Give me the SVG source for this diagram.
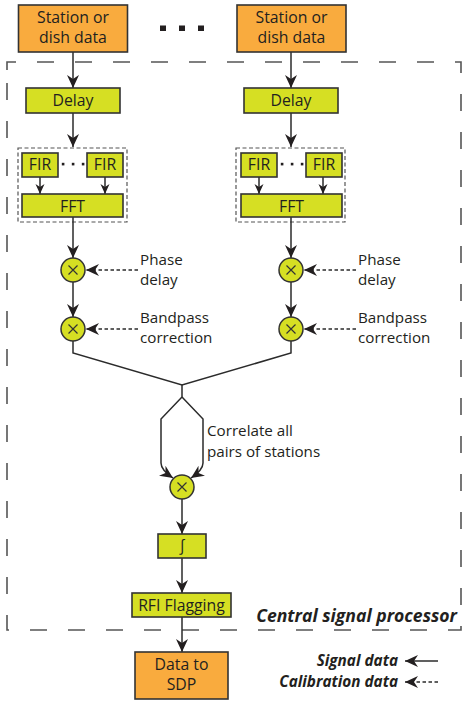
<svg xmlns="http://www.w3.org/2000/svg" width="463" height="703" viewBox="0 0 463 703">
  <style>
    .src { fill: #F9AB3E; stroke: #333; stroke-width: 1.6; }
    .blk { fill: #D6DF23; stroke: #333; stroke-width: 1.6; }
    .mul { fill: #D6DF23; stroke: #333; stroke-width: 1.5; }
    .x { stroke: #333; stroke-width: 1.2; fill: none; }
    .t { font-family: "Open Sans", "Noto Sans", sans-serif; font-size: 15.8px; fill: #231F20; }
    .c { text-anchor: middle; }
    .lbl { font-family: "Open Sans", "Noto Sans", sans-serif; font-size: 15.2px; fill: #231F20; }
    .bi { font-family: "Open Sans", "Noto Sans", sans-serif; font-weight: bold; font-style: italic; fill: #231F20; }
    .sig { stroke: #2B2B2B; stroke-width: 1.5; fill: none; }
    .cal { stroke: #2B2B2B; stroke-width: 1.5; fill: none; stroke-dasharray: 3.5 2.5; }
    .outer { stroke: #555; stroke-width: 1.6; fill: none; stroke-dasharray: 17 21; }
    .inner { stroke: #555; stroke-width: 1.2; fill: none; stroke-dasharray: 4 2.5; }
    .dot { fill: #231F20; }
  </style>
  <defs>
    <marker id="ah" markerUnits="userSpaceOnUse" markerWidth="14" markerHeight="13" refX="13" refY="6.5" orient="auto">
      <path d="M0,0.5 L13,6.5 L0,12.5 L4,6.5 Z" fill="#231F20"/>
    </marker>
    <marker id="ahs" markerUnits="userSpaceOnUse" markerWidth="11" markerHeight="10" refX="10" refY="5" orient="auto">
      <path d="M0,0.5 L10,5 L0,9.5 L3,5 Z" fill="#231F20"/>
    </marker>
  </defs>

  <!-- processor boundaries -->
  <path class="outer" d="M7,70 V62 H461 V630 H7 Z"/>
  <rect class="inner" x="18" y="148" width="109" height="74"/>
  <rect class="inner" x="236" y="148" width="109" height="74"/>

  <!-- connectors -->
  <g id="connectors">
    <line class="sig" x1="73" y1="52" x2="73" y2="88" marker-end="url(#ah)"/>
    <line class="sig" x1="291" y1="52" x2="291" y2="88" marker-end="url(#ah)"/>
    <line class="sig" x1="73" y1="113" x2="73" y2="147" marker-end="url(#ah)"/>
    <line class="sig" x1="291" y1="113" x2="291" y2="147" marker-end="url(#ah)"/>
    <line class="sig" x1="40" y1="177" x2="40" y2="194" marker-end="url(#ahs)"/>
    <line class="sig" x1="105" y1="177" x2="105" y2="194" marker-end="url(#ahs)"/>
    <line class="sig" x1="259" y1="177" x2="259" y2="194" marker-end="url(#ahs)"/>
    <line class="sig" x1="323" y1="177" x2="323" y2="194" marker-end="url(#ahs)"/>
    <line class="sig" x1="73" y1="217" x2="73" y2="258" marker-end="url(#ah)"/>
    <line class="sig" x1="291" y1="217" x2="291" y2="258" marker-end="url(#ah)"/>
    <line class="sig" x1="73" y1="282" x2="73" y2="317" marker-end="url(#ah)"/>
    <line class="sig" x1="291" y1="282" x2="291" y2="317" marker-end="url(#ah)"/>
    <line class="cal" x1="138" y1="270" x2="86" y2="270" marker-end="url(#ah)"/>
    <line class="cal" x1="356" y1="270" x2="304" y2="270" marker-end="url(#ah)"/>
    <line class="cal" x1="138" y1="329" x2="86" y2="329" marker-end="url(#ah)"/>
    <line class="cal" x1="356" y1="329" x2="304" y2="329" marker-end="url(#ah)"/>
    <path class="sig" d="M73,341 V353 L182,385 L291,353 V341"/>
    <path class="sig" d="M182,385 V397 L161,419 V463 Q161,470 173,478" marker-end="url(#ah)"/>
    <path class="sig" d="M182,397 L203,419 V463 Q203,470 191,478" marker-end="url(#ah)"/>
    <line class="sig" x1="182" y1="499" x2="182" y2="534" marker-end="url(#ah)"/>
    <line class="sig" x1="182" y1="558" x2="182" y2="593" marker-end="url(#ah)"/>
    <line class="sig" x1="182" y1="617" x2="182" y2="652" marker-end="url(#ah)"/>
    <line class="sig" x1="438" y1="661" x2="405" y2="661" marker-end="url(#ah)"/>
    <line class="cal" x1="438" y1="682" x2="405" y2="682" marker-end="url(#ah)"/>
  </g>

  <!-- inputs -->
  <g id="station-1">
    <rect class="src" x="18.5" y="5" width="109" height="47"/>
    <text class="t c" x="73" y="23">Station or</text>
    <text class="t c" x="73" y="43">dish data</text>
  </g>
  <g id="station-n">
    <rect class="src" x="237" y="5" width="109" height="47"/>
    <text class="t c" x="291.5" y="23">Station or</text>
    <text class="t c" x="291.5" y="43">dish data</text>
  </g>
  <g id="ellipsis">
    <rect class="dot" x="160" y="25.5" width="6" height="5.5"/>
    <rect class="dot" x="179" y="25.5" width="6" height="5.5"/>
    <rect class="dot" x="198" y="25.5" width="6" height="5.5"/>
  </g>

  <!-- left chain -->
  <g id="delay-1">
    <rect class="blk" x="26" y="88" width="94" height="25"/>
    <text class="t c" x="73" y="106">Delay</text>
  </g>
  <g id="fir-1a">
    <rect class="blk" x="22" y="153" width="36" height="24"/>
    <text class="t c" x="40" y="170">FIR</text>
  </g>
  <g id="fir-1b">
    <rect class="blk" x="87" y="153" width="36" height="24"/>
    <text class="t c" x="105" y="170">FIR</text>
  </g>
  <g id="fir-dots-1">
    <rect class="dot" x="61.8" y="162.8" width="2.6" height="2.6"/>
    <rect class="dot" x="71.8" y="162.8" width="2.6" height="2.6"/>
    <rect class="dot" x="81.8" y="162.8" width="2.6" height="2.6"/>
  </g>
  <g id="fft-1">
    <rect class="blk" x="22" y="194" width="101" height="23"/>
    <text class="t c" x="72.5" y="212">FFT</text>
  </g>
  <g id="phase-1">
    <circle class="mul" cx="73" cy="270" r="12"/>
    <path class="x" d="M68.5,265.5 L77.5,274.5 M77.5,265.5 L68.5,274.5"/>
    <text class="lbl" x="140" y="265">Phase</text>
    <text class="lbl" x="140" y="285">delay</text>
  </g>
  <g id="bandpass-1">
    <circle class="mul" cx="73" cy="329" r="12"/>
    <path class="x" d="M68.5,324.5 L77.5,333.5 M77.5,324.5 L68.5,333.5"/>
    <text class="lbl" x="140" y="323">Bandpass</text>
    <text class="lbl" x="140" y="343">correction</text>
  </g>

  <!-- right chain -->
  <g id="delay-n">
    <rect class="blk" x="244" y="88" width="94" height="25"/>
    <text class="t c" x="291" y="106">Delay</text>
  </g>
  <g id="fir-na">
    <rect class="blk" x="241" y="153" width="36" height="24"/>
    <text class="t c" x="259" y="170">FIR</text>
  </g>
  <g id="fir-nb">
    <rect class="blk" x="306" y="153" width="36" height="24"/>
    <text class="t c" x="324" y="170">FIR</text>
  </g>
  <g id="fir-dots-n">
    <rect class="dot" x="280.8" y="162.8" width="2.6" height="2.6"/>
    <rect class="dot" x="290.8" y="162.8" width="2.6" height="2.6"/>
    <rect class="dot" x="300.8" y="162.8" width="2.6" height="2.6"/>
  </g>
  <g id="fft-n">
    <rect class="blk" x="241" y="194" width="101" height="23"/>
    <text class="t c" x="291.5" y="212">FFT</text>
  </g>
  <g id="phase-n">
    <circle class="mul" cx="291" cy="270" r="12"/>
    <path class="x" d="M286.5,265.5 L295.5,274.5 M295.5,265.5 L286.5,274.5"/>
    <text class="lbl" x="358" y="265">Phase</text>
    <text class="lbl" x="358" y="285">delay</text>
  </g>
  <g id="bandpass-n">
    <circle class="mul" cx="291" cy="329" r="12"/>
    <path class="x" d="M286.5,324.5 L295.5,333.5 M295.5,324.5 L286.5,333.5"/>
    <text class="lbl" x="358" y="323">Bandpass</text>
    <text class="lbl" x="358" y="343">correction</text>
  </g>

  <!-- correlation and output -->
  <g id="correlate">
    <text class="lbl" x="207" y="436">Correlate all</text>
    <text class="lbl" x="207" y="457">pairs of stations</text>
  </g>
  <g id="correlator">
    <circle class="mul" cx="182" cy="487" r="12"/>
    <path class="x" d="M177.5,482.5 L186.5,491.5 M186.5,482.5 L177.5,491.5"/>
  </g>
  <g id="integrate">
    <rect class="blk" x="158" y="534" width="48" height="24"/>
    <text class="t c" x="182" y="551">∫</text>
  </g>
  <g id="rfi">
    <rect class="blk" x="132" y="593" width="99" height="24"/>
    <text class="t c" x="181.5" y="611">RFI Flagging</text>
  </g>
  <text class="bi" x="457" y="622" font-size="17.6" text-anchor="end">Central signal processor</text>
  <g id="sdp">
    <rect class="src" x="135" y="652" width="93" height="47"/>
    <text class="t c" x="181.5" y="670">Data to</text>
    <text class="t c" x="181.5" y="690">SDP</text>
  </g>

  <!-- legend -->
  <g id="legend">
    <text class="bi" x="398" y="666" font-size="15.3" text-anchor="end">Signal data</text>
    <text class="bi" x="398" y="687" font-size="15.3" text-anchor="end">Calibration data</text>
  </g>
</svg>
